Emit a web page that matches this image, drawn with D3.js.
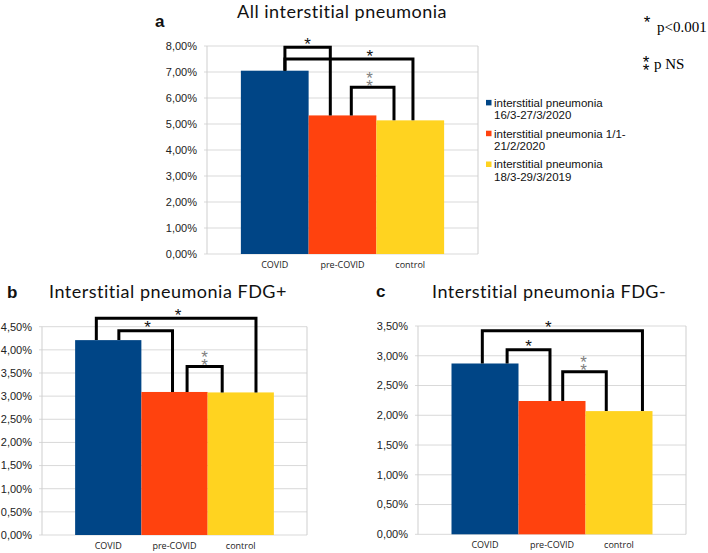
<html>
<head>
<meta charset="UTF-8"/>
<script src="https://d3js.org/d3.v7.min.js"></script>
</head>
<body style="margin:0">
<script>
// data
const series = ["COVID", "pre-COVID", "control"];
const colors = ["#004586", "#ff420e", "#ffd320"];
const legendLines = [
  ["interstitial pneumonia", "16/3-27/3/2020"],
  ["interstitial pneumonia 1/1-", "21/2/2020"],
  ["interstitial pneumonia", "18/3-29/3/2019"]
];
const titles = ["All interstitial pneumonia", "Interstitial pneumonia FDG+", "Interstitial pneumonia FDG-"];
const letters = ["a", "b", "c"];

const valuesA = [7.05, 5.33, 5.14];
const valuesB = [4.21, 3.09, 3.08];
const valuesC = [2.87, 2.24, 2.07];

const ticksA = [0, 1, 2, 3, 4, 5, 6, 7, 8];
const ticksB = [0, 0.5, 1, 1.5, 2, 2.5, 3, 3.5, 4, 4.5];
const ticksC = [0, 0.5, 1, 1.5, 2, 2.5, 3, 3.5];

// comparisons: [from series, to series, significance]
const pairs = [[0, 1, "sig"], [0, 2, "sig"], [1, 2, "ns"]];
// bracket heights (same units as the values)
const levelsA = [7.95, 7.5, 6.41];
const levelsB = [4.41, 4.68, 3.64];
const levelsC = [3.10, 3.42, 2.73];

const pLegend = ["p<0.001", "p NS"];

var width = 708, height = 553;

var svg = d3.select("body").append("svg")
  .attr("width", width)
  .attr("height", height)
  .style("font-family", "'Liberation Sans', Arial, sans-serif");

const fmt = v => v.toFixed(2).replace(".", ",") + "%";

// layout of each panel
const panels = [
  {values: valuesA, ticks: ticksA, levels: levelsA, title: titles[0], letter: letters[0],
   box: {l: 207, r: 478, t: 46, b: 254}, titleX: 237, titleY: 18, letterX: 155, letterY: 27,
   legs: [[0.65, 0.32], [0.65, 0.54], [0.63, 0.26]], starDx: [0, 21, -3]},
  {values: valuesB, ticks: ticksB, levels: levelsB, title: titles[1], letter: letters[1],
   box: {l: 42, r: 307, t: 326.7, b: 535}, titleX: 49, titleY: 298, letterX: 7, letterY: 298,
   legs: [[0.66, 0.47], [0.32, 0.73], [0.69, 0.22]], starDx: [2, 2, 0]},
  {values: valuesC, ticks: ticksC, levels: levelsC, title: titles[2], letter: letters[2],
   box: {l: 418, r: 686, t: 326, b: 534.3}, titleX: 432, titleY: 298, letterX: 376, letterY: 297,
   legs: [[0.83, 0.47], [0.46, 0.85], [0.66, 0.31]], starDx: [0, -14, -1]}
];

panels.forEach(drawPanel);

function drawPanel(p) {
  const g = svg.append("g");
  const box = p.box;

  const x = d3.scaleBand().domain(series).range([box.l, box.r]).paddingInner(0).paddingOuter(0.5);
  const y = d3.scaleLinear().domain([0, d3.max(p.ticks)]).range([box.b, box.t]);

  // gridlines
  g.selectAll(".grid").data(p.ticks).enter().append("line")
    .attr("x1", box.l - 3).attr("x2", box.r)
    .attr("y1", d => y(d)).attr("y2", d => y(d))
    .attr("stroke", "#d9d9d9").attr("stroke-width", 1);
  g.append("line").attr("x1", box.l).attr("x2", box.l).attr("y1", box.t).attr("y2", box.b)
    .attr("stroke", "#cfcfcf");
  g.append("line").attr("x1", box.r).attr("x2", box.r).attr("y1", box.t).attr("y2", box.b)
    .attr("stroke", "#cfcfcf");

  // tick labels
  g.selectAll(".tick").data(p.ticks).enter().append("text")
    .attr("x", box.l - 10).attr("y", d => y(d)).attr("dy", "0.35em")
    .attr("text-anchor", "end").attr("font-size", 11).attr("fill", "#222")
    .text(fmt);

  // bars
  g.selectAll(".bar").data(p.values).enter().append("rect")
    .attr("x", (d, i) => x(series[i]))
    .attr("width", x.bandwidth())
    .attr("y", d => y(d))
    .attr("height", d => y(0) - y(d))
    .attr("fill", (d, i) => colors[i]);

  // category labels
  g.selectAll(".cat").data(series).enter().append("text")
    .attr("x", d => x(d) + x.bandwidth() / 2).attr("y", box.b + 14)
    .attr("text-anchor", "middle").attr("font-size", 9)
    .attr("font-family", "'Open Sans', sans-serif").attr("fill", "#222")
    .text(d => d);

  // significance brackets
  pairs.forEach((pr, k) => {
    const x0 = x(series[pr[0]]) + x.bandwidth() * p.legs[k][0];
    const x1 = x(series[pr[1]]) + x.bandwidth() * p.legs[k][1];
    const top = y(p.levels[k]);
    g.append("path")
      .attr("d", "M" + x0 + "," + y(p.values[pr[0]]) + "V" + top + "H" + x1 + "V" + y(p.values[pr[1]]))
      .attr("fill", "none").attr("stroke", "#000").attr("stroke-width", 3)
      .attr("stroke-linejoin", "miter");
    const cx = (x0 + x1) / 2 + p.starDx[k];
    if (pr[2] == "sig") {
      star(g, cx, top - 7, "#111");
    } else {
      doubleStar(g, cx, top - 13, "#808080");
    }
  });

  // title and panel letter
  g.append("text").attr("x", p.titleX).attr("y", p.titleY)
    .attr("font-family", "Lato, sans-serif").attr("font-size", 18)
    .attr("letter-spacing", 0.5).attr("fill", "#111")
    .text(p.title);
  g.append("text").attr("x", p.letterX).attr("y", p.letterY)
    .attr("font-size", 17).attr("font-weight", "bold").attr("fill", "#111")
    .text(p.letter);
}

function star(g, cx, cy, color) {
  g.append("text").attr("x", cx).attr("y", cy + 9.5)
    .attr("text-anchor", "middle").attr("font-size", 17).attr("fill", color)
    .text("*");
}

// two stacked stars as one text
function doubleStar(g, cx, cy, color) {
  const t = g.append("text").attr("text-anchor", "middle").attr("font-size", 17).attr("fill", color);
  t.append("tspan").attr("x", cx).attr("y", cy + 9.5).text("*");
  t.append("tspan").attr("x", cx).attr("y", cy + 17.5).text("*");
}

// legend for panel a
const leg = svg.append("g").attr("transform", "translate(486,0)");
legendLines.forEach((lines, i) => {
  const cy = 102.7 + i * 30.8;
  leg.append("rect").attr("x", 0).attr("y", cy - 2.8).attr("width", 5.5).attr("height", 5.5)
    .attr("fill", colors[i]);
  const t = leg.append("text").attr("font-size", 11.5).attr("fill", "#111");
  lines.forEach((s, j) => {
    t.append("tspan").attr("x", 8).attr("y", cy + 4 + j * 12.3).text(s);
  });
});

// p-value key
star(svg, 647, 18, "#000");
svg.append("text").attr("x", 657).attr("y", 32).attr("font-family", "'Liberation Serif', serif")
  .attr("font-size", 15).text(pLegend[0]);
doubleStar(svg, 646, 58, "#000");
svg.append("text").attr("x", 654).attr("y", 69).attr("font-family", "'Liberation Serif', serif")
  .attr("font-size", 15).text(pLegend[1]);
</script>
</body>
</html>
